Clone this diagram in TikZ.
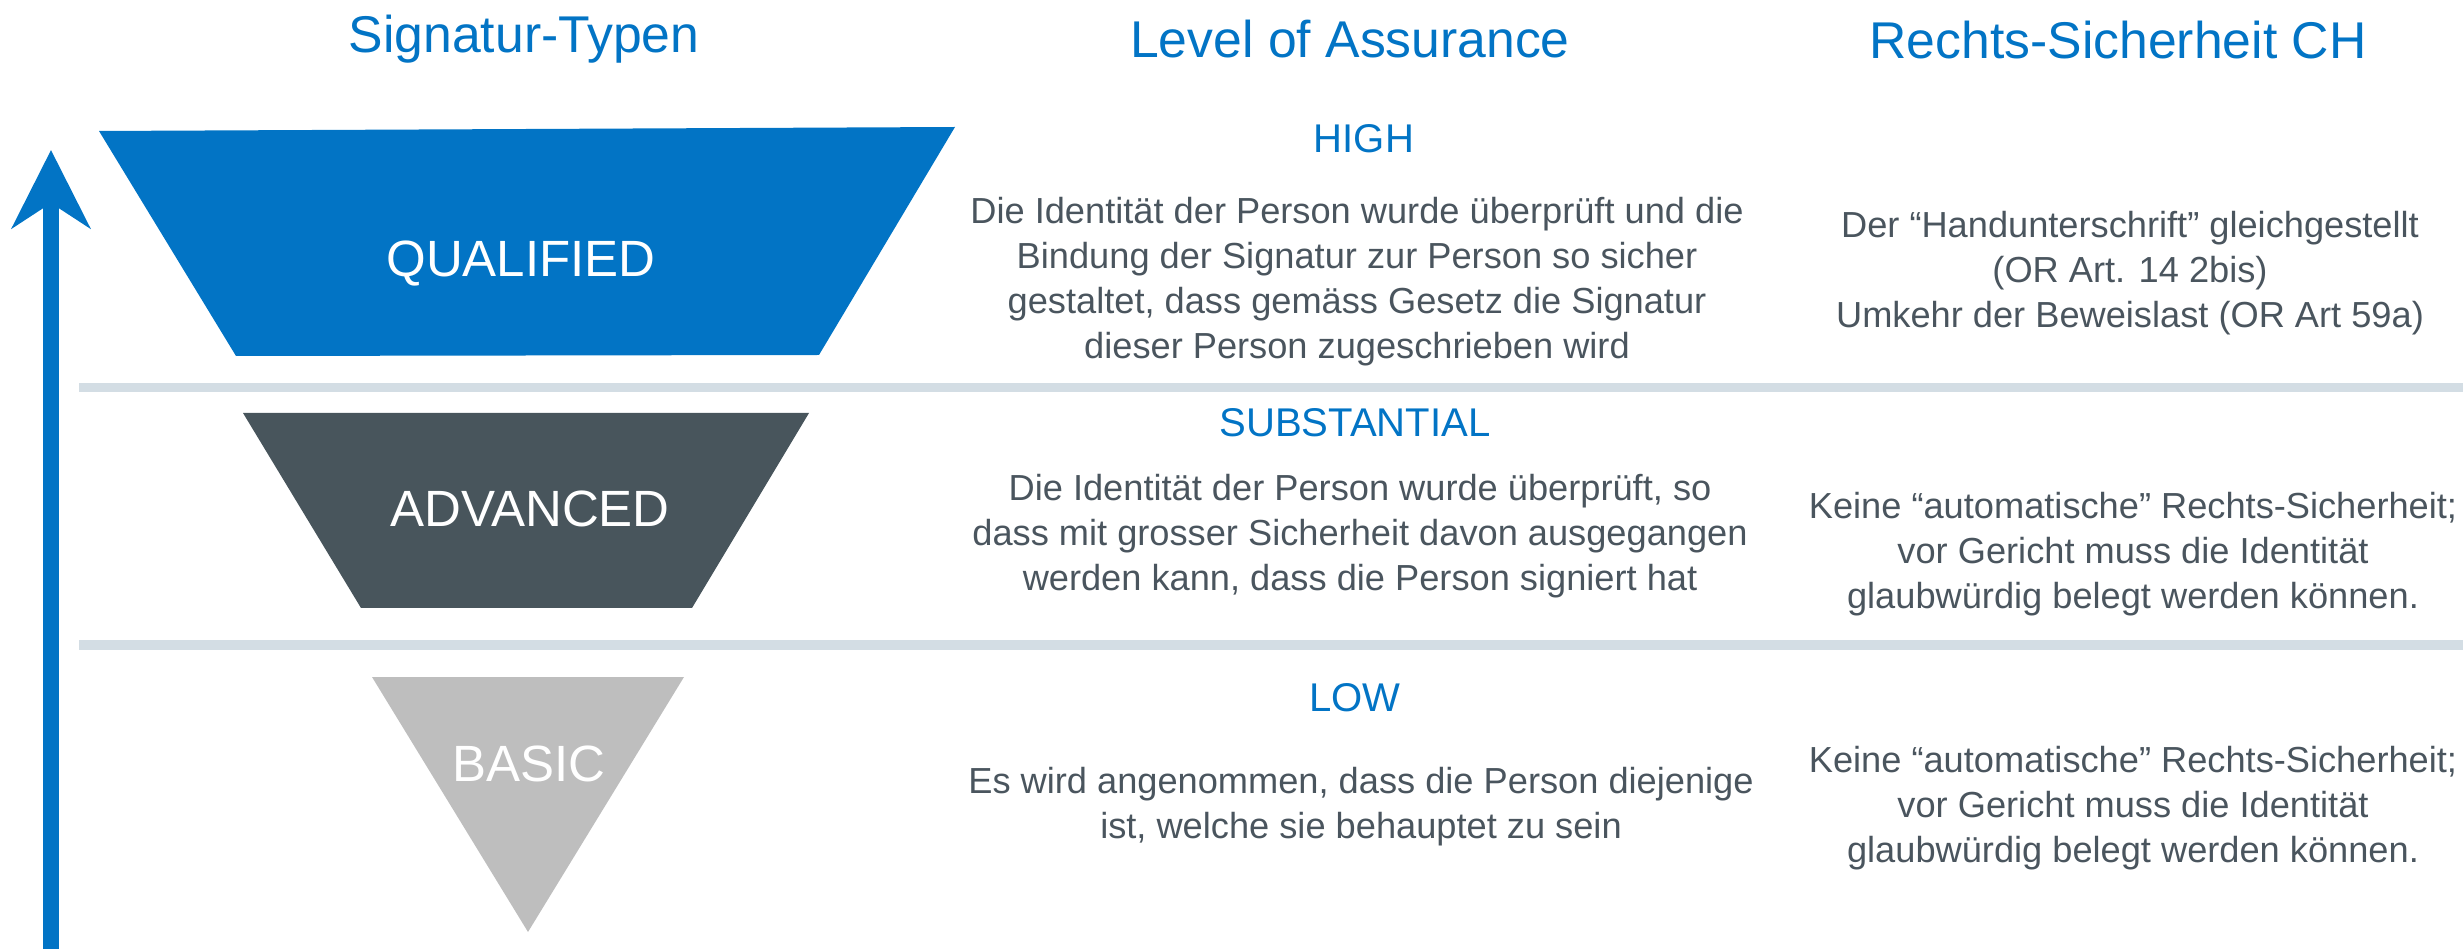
\documentclass[tikz,border=0pt]{standalone}
\usepackage{fontspec}
\setmainfont{Liberation Sans}
\usetikzlibrary{arrows.meta}

\definecolor{loablue}{RGB}{2,116,197}
\definecolor{advslate}{RGB}{72,85,92}
\definecolor{basicgray}{RGB}{190,190,190}
\definecolor{txtgray}{RGB}{74,85,94}
\definecolor{rulegray}{RGB}{211,221,228}

\begin{document}
\begin{tikzpicture}[x=0.01cm, y=-0.01cm,
	hd/.style={font=\fontsize{14.7}{17}\selectfont, text=loablue, anchor=base, inner sep=0pt},
	lv/.style={font=\fontsize{11.4}{13}\selectfont, text=loablue, anchor=base, inner sep=0pt},
	tx/.style={font=\fontsize{10.3}{12.8}\selectfont, text=txtgray, align=center, anchor=north, inner sep=0pt},
	sg/.style={font=\fontsize{14.5}{17}\selectfont, text=white, anchor=base, inner sep=0pt},
	sep/.style={rulegray, line width=0.09cm},
	axis/.style={loablue, line width=0.16cm, -{Stealth[length=0.78cm, width=0.78cm, inset=0.25cm]}}]
	\useasboundingbox (0,0) rectangle (2463,949);

	% column titles
	\node[hd] (tsig) at (524,53) {Signatur-Typen};
	\node[hd] (tloa) at (1350,58) {Level of Assurance};
	\node[hd] (trs) at (2118,59) {Rechts-Sicherheit CH};

	% rising axis
	\coordinate (axfoot) at (51,949); \coordinate (axtop) at (51,150);
	\draw[axis] (axfoot) -- (axtop);

	% separators
	\coordinate (s1a) at (79,388); \coordinate (s1b) at (2463,388);
	\coordinate (s2a) at (79,645); \coordinate (s2b) at (2463,645);
	\draw[sep] (s1a) -- (s1b); \draw[sep] (s2a) -- (s2b);

	% signature types
	\fill[loablue] (99,131) -- (955,127) -- (819,355) -- (236,356) -- cycle;
	\fill[advslate] (243,413) -- (809,413) -- (692,608) -- (361,608) -- cycle;
	\fill[basicgray] (372,677) -- (684,677) -- (528,932) -- cycle;
	\node[sg] (qual) at (521,277) {QUALIFIED};
	\node[sg] (adv) at (530,527) {ADVANCED};
	\node[sg] (basic) at (529,781) {BASIC};

	% levels of assurance
	\node[lv] (high) at (1364,153) {HIGH};
	\node[tx] (dhigh) at (1357,191.5) {\strut Die Identität der Person wurde überprüft und die\\
		Bindung der Signatur zur Person so sicher\\ gestaltet, dass gemäss Gesetz die Signatur\\
		dieser Person zugeschrieben wird};
	\node[lv] (subst) at (1355,437) {SUBSTANTIAL};
	\node[tx] (dsubst) at (1360,468.5) {\strut Die Identität der Person wurde überprüft, so\\
		dass mit grosser Sicherheit davon ausgegangen\\ werden kann, dass die Person signiert hat};
	\node[lv] (low) at (1355,711) {LOW};
	\node[tx] (dlow) at (1361,761.5) {\strut Es wird angenommen, dass die Person diejenige\\
		ist, welche sie behauptet zu sein};

	% legal certainty
	\node[tx] (rhigh) at (2130,205.5) {\strut Der “Handunterschrift” gleichgestellt\\
		(OR Art. 14 2bis)\\ Umkehr der Beweislast (OR Art 59a)};
	\node[tx] (rsubst) at (2133,486.5) {\strut Keine “automatische” Rechts-Sicherheit;\\
		vor Gericht muss die Identität\\ glaubwürdig belegt werden können.};
	\node[tx] (rlow) at (2133,740.5) {\strut Keine “automatische” Rechts-Sicherheit;\\
		vor Gericht muss die Identität\\ glaubwürdig belegt werden können.};
\end{tikzpicture}
\end{document}
